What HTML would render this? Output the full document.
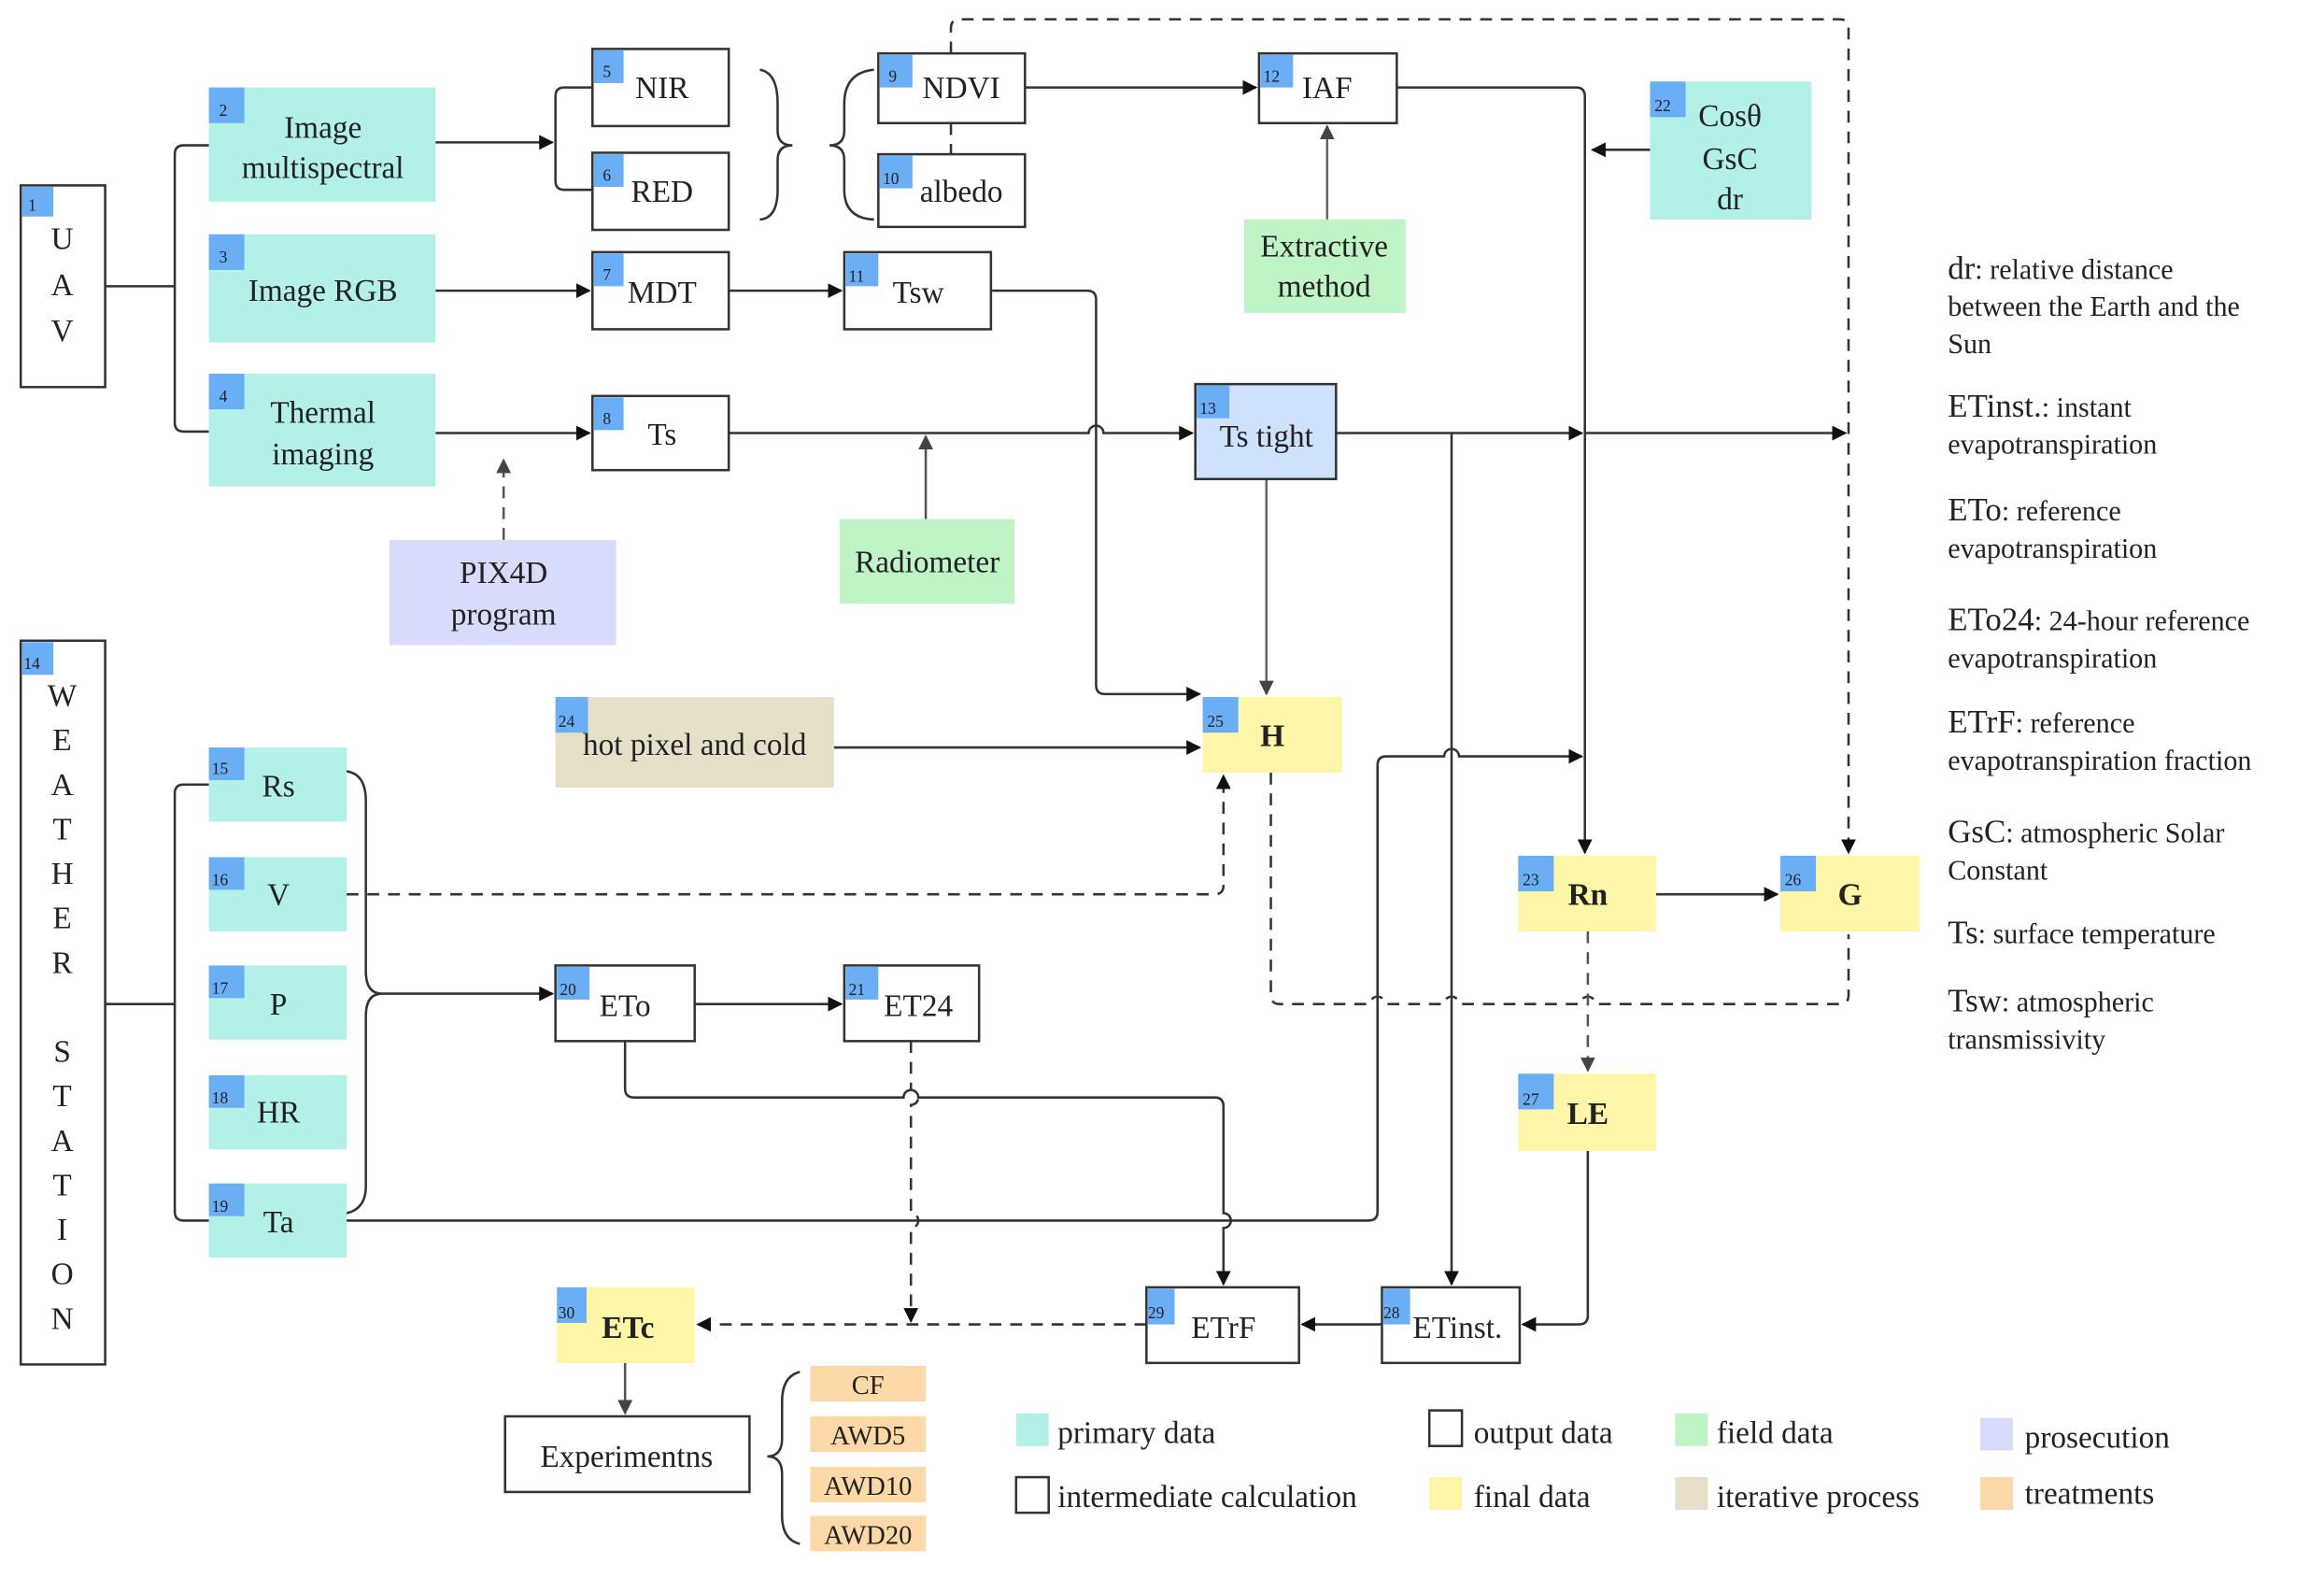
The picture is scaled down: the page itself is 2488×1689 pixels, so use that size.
<!DOCTYPE html>
<html><head><meta charset="utf-8"><style>
html,body{margin:0;padding:0;background:#fff;}
svg{display:block;}
text{font-family:"Liberation Serif",serif;fill:#222;}
.b{font-size:11px;fill:#1a2a60;}
.t{font-size:21px;}
.l{font-size:19px;}
</style></head><body>
<svg width="2488" height="1689" viewBox="0 0 1569 1064" preserveAspectRatio="none" xmlns="http://www.w3.org/2000/svg">
<defs>
<marker id="a" markerWidth="10" markerHeight="10" refX="9" refY="5" orient="auto" markerUnits="userSpaceOnUse"><path d="M0,0 L10,5 L0,10 z" fill="#111"/></marker>
<marker id="g" markerWidth="10" markerHeight="12" refX="9" refY="5" orient="auto" markerUnits="userSpaceOnUse"><path d="M0,0 L10,5 L0,10 z" fill="#444"/></marker>
</defs>
<g fill="none" stroke="#333" stroke-width="1.6">
<path d="M71,193 H118"/>
<path d="M141,98 H124 Q118,98 118,104 V285 Q118,291 124,291 H141"/>
<path d="M294,96 H373" marker-end="url(#a)"/>
<path d="M400,59 H381 Q375,59 375,65 V122 Q375,128 381,128 H400"/>
<path d="M294,196 H398" marker-end="url(#a)"/>
<path d="M492,196 H568" marker-end="url(#a)"/>
<path d="M294,292 H398" marker-end="url(#a)"/>
<path d="M492,292 H735 A5,5 0 0 1 745,292 H805" marker-end="url(#a)"/>
<path d="M340,364 V310" stroke-dasharray="8,6" stroke="#555" marker-end="url(#g)"/>
<path d="M625,350 V294" stroke="#555" marker-end="url(#g)"/>
<path d="M513,47 Q525,49 525,70 V88 Q525,98 535,98 Q525,98 525,108 V128 Q525,147 513,148"/>
<path d="M590,47 Q570,49 570,70 V88 Q570,98 560,98 Q570,98 570,108 V128 Q570,147 590,148"/>
<path d="M692,59 H848" marker-end="url(#a)"/>
<path d="M642,83 V104" stroke-dasharray="8,6"/>
<path d="M642,36 V19 Q642,13 648,13 H1242 Q1248,13 1248,19 V575" stroke-dasharray="8,6" marker-end="url(#a)"/>
<path d="M896,148 V85" stroke="#666" marker-end="url(#g)"/>
<path d="M943,59 H1064 Q1070,59 1070,65 V575" marker-end="url(#a)"/>
<path d="M1114,101 H1075" marker-end="url(#a)"/>
<path d="M669,196 H734 Q740,196 740,202 V462 Q740,468 746,468 H810" marker-end="url(#a)"/>
<path d="M902,292 H1068" marker-end="url(#a)"/>
<path d="M1070,292 H1246" marker-end="url(#a)"/>
<path d="M980,292 V866" marker-end="url(#a)"/>
<path d="M855,323 V468" stroke="#666" marker-end="url(#g)"/>
<path d="M563,504 H810" marker-end="url(#a)"/>
<path d="M234,603 H820 Q826,603 826,597 V523" stroke-dasharray="8,6" marker-end="url(#a)"/>
<path d="M71,677 H118"/>
<path d="M141,529 H124 Q118,529 118,535 V817 Q118,823 124,823 H141"/>
<path d="M234,520 Q247,522 247,540 V655 Q247,670 258,670 Q247,670 247,685 V800 Q247,815 234,818"/>
<path d="M258,670 H373" marker-end="url(#a)"/>
<path d="M469,677 H568" marker-end="url(#a)"/>
<path d="M422,702 V734 Q422,740 428,740 H610 A5,5 0 0 1 620,740 H820 Q826,740 826,746 V818 A5,5 0 0 1 826,828 V866" marker-end="url(#a)"/>
<path d="M615,702 V735 A5,5 0 0 1 615,745 V818 A5,5 0 0 1 615,828 V891" stroke-dasharray="8,6" marker-end="url(#a)"/>
<path d="M234,823 H924 Q930,823 930,817 V516 Q930,510 936,510 H975 A5,5 0 0 1 985,510 H1068" marker-end="url(#a)"/>
<path d="M858,521 V671 Q858,677 864,677 H925 A5,5 0 0 1 935,677 H975 A5,5 0 0 1 985,677 H1067 A5,5 0 0 1 1077,677 H1242 Q1248,677 1248,671 V630" stroke-dasharray="8,6"/>
<path d="M1072,628 V722" stroke-dasharray="8,6" stroke="#555" marker-end="url(#g)"/>
<path d="M1118,603 H1200" marker-end="url(#a)"/>
<path d="M1072,776 V887 Q1072,893 1066,893 H1028" marker-end="url(#a)"/>
<path d="M933,893 H879" marker-end="url(#a)"/>
<path d="M774,893 H471" stroke-dasharray="8,6" marker-end="url(#a)"/>
<path d="M422,919 V953" stroke="#555" marker-end="url(#g)"/>
<path d="M540,925 Q528,928 528,945 V970 Q528,982 518,982 Q528,982 528,994 V1022 Q528,1038 540,1041"/>
</g>
<g stroke-width="1.6">
<rect x="14" y="125" width="57" height="136" fill="#fff" stroke="#333"/>
<rect x="14" y="432" width="57" height="488" fill="#fff" stroke="#333"/>
<rect x="141" y="59" width="153" height="77" fill="#b3f1e8"/>
<rect x="141" y="158" width="153" height="73" fill="#b3f1e8"/>
<rect x="141" y="252" width="153" height="76" fill="#b3f1e8"/>
<rect x="400" y="33" width="92" height="52" fill="#fff" stroke="#333"/>
<rect x="400" y="103" width="92" height="52" fill="#fff" stroke="#333"/>
<rect x="400" y="170" width="92" height="52" fill="#fff" stroke="#333"/>
<rect x="400" y="267" width="92" height="50" fill="#fff" stroke="#333"/>
<rect x="593" y="36" width="99" height="47" fill="#fff" stroke="#333"/>
<rect x="593" y="104" width="99" height="49" fill="#fff" stroke="#333"/>
<rect x="570" y="170" width="99" height="52" fill="#fff" stroke="#333"/>
<rect x="850" y="36" width="93" height="47" fill="#fff" stroke="#333"/>
<rect x="1114" y="55" width="109" height="93" fill="#b3f1e8"/>
<rect x="840" y="148" width="109" height="63" fill="#bff5c6"/>
<rect x="807" y="259" width="95" height="64" fill="#cfe2fc" stroke="#333"/>
<rect x="263" y="364" width="153" height="71" fill="#d9dbfb"/>
<rect x="567" y="350" width="118" height="57" fill="#bff5c6"/>
<rect x="141" y="504" width="93" height="50" fill="#b3f1e8"/>
<rect x="141" y="578" width="93" height="50" fill="#b3f1e8"/>
<rect x="141" y="651" width="93" height="50" fill="#b3f1e8"/>
<rect x="141" y="725" width="93" height="50" fill="#b3f1e8"/>
<rect x="141" y="798" width="93" height="50" fill="#b3f1e8"/>
<rect x="375" y="470" width="188" height="61" fill="#e6e0c9"/>
<rect x="812" y="470" width="94" height="51" fill="#fdf5a7"/>
<rect x="375" y="651" width="94" height="51" fill="#fff" stroke="#333"/>
<rect x="570" y="651" width="91" height="51" fill="#fff" stroke="#333"/>
<rect x="1025" y="577" width="93" height="51" fill="#fdf5a7"/>
<rect x="1202" y="577" width="94" height="51" fill="#fdf5a7"/>
<rect x="1025" y="724" width="93" height="52" fill="#fdf5a7"/>
<rect x="933" y="868" width="93" height="51" fill="#fff" stroke="#333"/>
<rect x="774" y="868" width="103" height="51" fill="#fff" stroke="#333"/>
<rect x="376" y="868" width="93" height="51" fill="#fdf5a7"/>
<rect x="341" y="955" width="165" height="51" fill="#fff" stroke="#333"/>
<rect x="547" y="921" width="78" height="24" fill="#fcd9a6"/>
<rect x="547" y="955" width="78" height="24" fill="#fcd9a6"/>
<rect x="547" y="989" width="78" height="24" fill="#fcd9a6"/>
<rect x="547" y="1022" width="78" height="24" fill="#fcd9a6"/>
</g>
<g fill="#6aaef5">
<rect x="15" y="126" width="21" height="20"/><rect x="141" y="59" width="24" height="24"/>
<rect x="141" y="158" width="24" height="24"/><rect x="141" y="252" width="24" height="24"/>
<rect x="401" y="34" width="20" height="22"/><rect x="401" y="104" width="20" height="22"/>
<rect x="401" y="171" width="20" height="22"/><rect x="401" y="268" width="20" height="22"/>
<rect x="594" y="37" width="22" height="22"/><rect x="594" y="105" width="22" height="22"/>
<rect x="571" y="171" width="22" height="22"/><rect x="851" y="37" width="22" height="22"/>
<rect x="1114" y="55" width="24" height="24"/><rect x="808" y="260" width="22" height="22"/>
<rect x="15" y="433" width="21" height="22"/>
<rect x="141" y="504" width="24" height="22"/><rect x="141" y="578" width="24" height="22"/>
<rect x="141" y="651" width="24" height="22"/><rect x="141" y="725" width="24" height="22"/>
<rect x="141" y="798" width="24" height="22"/>
<rect x="375" y="470" width="22" height="24"/><rect x="812" y="470" width="24" height="24"/>
<rect x="376" y="652" width="22" height="22"/><rect x="571" y="652" width="22" height="22"/>
<rect x="1025" y="577" width="24" height="24"/><rect x="1202" y="577" width="24" height="24"/>
<rect x="1025" y="724" width="24" height="24"/>
<rect x="934" y="869" width="18" height="24"/><rect x="775" y="869" width="18" height="24"/>
<rect x="376" y="868" width="20" height="24"/>
</g>
<g class="b">
<text x="19" y="142">1</text><text x="148" y="78">2</text><text x="148" y="177">3</text><text x="148" y="271">4</text>
<text x="407" y="52">5</text><text x="407" y="122">6</text><text x="407" y="189">7</text><text x="407" y="286">8</text>
<text x="600" y="55">9</text><text x="596" y="124">10</text><text x="573" y="190">11</text><text x="853" y="55">12</text>
<text x="1117" y="75">22</text><text x="810" y="279">13</text><text x="16" y="451">14</text>
<text x="143" y="522">15</text><text x="143" y="597">16</text><text x="143" y="670">17</text><text x="143" y="744">18</text><text x="143" y="817">19</text>
<text x="377" y="490">24</text><text x="815" y="490">25</text><text x="378" y="671">20</text><text x="573" y="671">21</text>
<text x="1028" y="597">23</text><text x="1205" y="597">26</text><text x="1028" y="745">27</text>
<text x="934" y="889">28</text><text x="775" y="889">29</text><text x="377" y="889">30</text>
</g>
<g class="t" text-anchor="middle">
<text x="42" y="168">U</text><text x="42" y="199">A</text><text x="42" y="230">V</text>
<text x="42" y="476">W</text><text x="42" y="506">E</text><text x="42" y="536">A</text><text x="42" y="566">T</text><text x="42" y="596">H</text><text x="42" y="626">E</text><text x="42" y="656">R</text>
<text x="42" y="716">S</text><text x="42" y="746">T</text><text x="42" y="776">A</text><text x="42" y="806">T</text><text x="42" y="836">I</text><text x="42" y="866">O</text><text x="42" y="896">N</text>
<text x="218" y="93">Image</text><text x="218" y="120">multispectral</text>
<text x="218" y="203">Image RGB</text>
<text x="218" y="285">Thermal</text><text x="218" y="313">imaging</text>
<text x="447" y="66">NIR</text><text x="447" y="136">RED</text><text x="447" y="204">MDT</text><text x="447" y="300">Ts</text>
<text x="649" y="66">NDVI</text><text x="649" y="136">albedo</text><text x="620" y="204">Tsw</text>
<text x="896" y="66">IAF</text>
<text x="1168" y="85">Cosθ</text><text x="1168" y="114">GsC</text><text x="1168" y="141">dr</text>
<text x="894" y="173">Extractive</text><text x="894" y="200">method</text>
<text x="855" y="301">Ts tight</text>
<text x="340" y="393">PIX4D</text><text x="340" y="421">program</text>
<text x="626" y="386">Radiometer</text>
<text x="188" y="537">Rs</text><text x="188" y="610">V</text><text x="188" y="684">P</text><text x="188" y="757">HR</text><text x="188" y="831">Ta</text>
<text x="469" y="509">hot pixel and cold</text>
<text x="859" y="503" font-weight="bold">H</text>
<text x="422" y="685">ETo</text><text x="620" y="685">ET24</text>
<text x="1072" y="610" font-weight="bold">Rn</text><text x="1249" y="610" font-weight="bold">G</text><text x="1072" y="758" font-weight="bold">LE</text>
<text x="984" y="902">ETinst.</text><text x="826" y="902">ETrF</text><text x="424" y="902" font-weight="bold">ETc</text>
<text x="423" y="989">Experimentns</text>
<text x="586" y="940" font-size="18">CF</text><text x="586" y="974" font-size="18">AWD5</text><text x="586" y="1008" font-size="18">AWD10</text><text x="586" y="1041" font-size="18">AWD20</text>
</g>
<rect x="686" y="953" width="22" height="22" fill="#b3f1e8"/>
<rect x="965" y="951" width="22" height="24" fill="#fff" stroke="#333" stroke-width="1.6"/>
<rect x="1131" y="953" width="22" height="22" fill="#bff5c6"/>
<rect x="1337" y="956" width="22" height="22" fill="#d9dbfb"/>
<rect x="686" y="996" width="22" height="24" fill="#fff" stroke="#333" stroke-width="1.6"/>
<rect x="965" y="996" width="22" height="22" fill="#fdf5a7"/>
<rect x="1131" y="996" width="22" height="22" fill="#e6e0c9"/>
<rect x="1337" y="996" width="22" height="22" fill="#fcd9a6"/>
<g class="t">
<text x="714" y="973">primary data</text><text x="995" y="973">output data</text><text x="1159" y="973">field data</text><text x="1367" y="976">prosecution</text>
<text x="714" y="1016">intermediate calculation</text><text x="995" y="1016">final data</text><text x="1159" y="1016">iterative process</text><text x="1367" y="1014">treatments</text>
</g>
<g class="l">
<text x="1315" y="188"><tspan font-size="22">dr</tspan>: relative distance</text>
<text x="1315" y="213">between the Earth and the</text>
<text x="1315" y="238">Sun</text>
<text x="1315" y="281"><tspan font-size="22">ETinst.</tspan>: instant</text>
<text x="1315" y="306">evapotranspiration</text>
<text x="1315" y="351"><tspan font-size="22">ETo</tspan>: reference</text>
<text x="1315" y="376">evapotranspiration</text>
<text x="1315" y="425"><tspan font-size="22">ETo24</tspan>: 24-hour reference</text>
<text x="1315" y="450">evapotranspiration</text>
<text x="1315" y="494"><tspan font-size="22">ETrF</tspan>: reference</text>
<text x="1315" y="519">evapotranspiration fraction</text>
<text x="1315" y="568"><tspan font-size="22">GsC</tspan>: atmospheric Solar</text>
<text x="1315" y="593">Constant</text>
<text x="1315" y="636"><tspan font-size="22">Ts</tspan>: surface temperature</text>
<text x="1315" y="682"><tspan font-size="22">Tsw</tspan>: atmospheric</text>
<text x="1315" y="707">transmissivity</text>
</g>
</svg>
</body></html>
